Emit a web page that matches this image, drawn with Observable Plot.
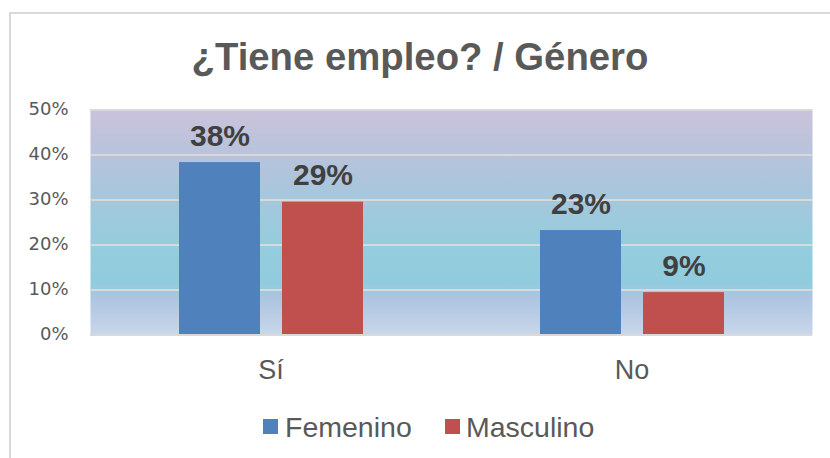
<!DOCTYPE html>
<html><head><meta charset="utf-8">
<script src="https://cdn.jsdelivr.net/npm/d3@7"></script>
<script src="https://cdn.jsdelivr.net/npm/@observablehq/plot@0.6"></script>
<style>
html,body{margin:0;padding:0;background:#fff;}
body{width:830px;height:458px;overflow:hidden;position:relative;font-family:"Liberation Sans",Arial,sans-serif;}
#frame{position:absolute;left:9px;top:12px;width:840px;height:470px;border-left:2px solid #D9D9D9;border-top:2px solid #D9D9D9;box-sizing:border-box;}
#title{position:absolute;left:0;width:840px;top:35px;text-align:center;font-weight:bold;font-size:38.3px;color:#595959;line-height:44px;}
#chart{position:absolute;left:0;top:0;}
.leg{position:absolute;font-size:28.5px;color:#595959;line-height:32px;top:411px;}
.sw{position:absolute;width:15px;height:15px;top:419px;}
</style></head>
<body>
<div id="frame"></div>
<div id="title">¿Tiene empleo? / Género</div>
<div id="chart"></div>
<div id="legend"></div>
<script>
const categorias = ["Sí", "No"];
const generos = ["Femenino", "Masculino"];
const femenino = [0.382, 0.231];
const masculino = [0.294, 0.093];
const yTicks = [0, 0.1, 0.2, 0.3, 0.4, 0.5];
const colores = ["#4F81BD", "#C0504D"];

const data = categorias.flatMap((c, i) => [
  {cat: c, gen: generos[0], v: femenino[i]},
  {cat: c, gen: generos[1], v: masculino[i]}
]);
const pct = d3.format(".0%");

const svg = Plot.plot({
  width: 830, height: 400,
  marginLeft: 90, marginRight: 18, marginTop: 109, marginBottom: 66,
  style: {fontFamily: "Liberation Sans, Arial, sans-serif", color: "#595959", background: "transparent"},
  fx: {domain: categorias, padding: 0, label: null},
  x: {domain: generos, paddingInner: 0.2136, paddingOuter: 0.859, axis: null},
  y: {domain: [0, 0.5], axis: null},
  color: {domain: generos, range: colores},
  marks: [
    Plot.frame({fill: "url(#bgGrad)", stroke: null, facet: "super"}),
    Plot.ruleY(yTicks, {stroke: "#D9D9D9", strokeWidth: 2, shapeRendering: "crispEdges"}),
    Plot.barY(data, {fx: "cat", x: "gen", y: "v", fill: "gen"}),
    Plot.text(data, {fx: "cat", x: "gen", y: "v", text: d => pct(d.v), dy: -17, lineAnchor: "bottom",
      fontSize: 30, fontWeight: "bold", fill: "#404040"}),
    Plot.axisY(yTicks, {tickSize: 0, tickPadding: 22, tickFormat: pct, fontSize: 18,
      fontFamily: "DejaVu Sans", label: null}),
    Plot.axisFx({anchor: "bottom", tickSize: 0, tickPadding: 25, fontSize: 27, label: null})
  ]
});

const ns = "http://www.w3.org/2000/svg";
const defs = document.createElementNS(ns, "defs");
const grad = document.createElementNS(ns, "linearGradient");
grad.setAttribute("id", "bgGrad");
grad.setAttribute("x1", "0"); grad.setAttribute("y1", "0");
grad.setAttribute("x2", "0"); grad.setAttribute("y2", "1");
[[0, "#CCC2DB"], [0.2, "#B8C3DC"], [0.4, "#A5C7DC"], [0.6, "#95CDDD"], [0.77, "#90CCDD"], [0.84, "#AEC4E0"], [1, "#C9D7EA"]]
  .forEach(([o, c]) => {
    const s = document.createElementNS(ns, "stop");
    s.setAttribute("offset", o); s.setAttribute("stop-color", c);
    grad.appendChild(s);
  });
defs.appendChild(grad);
svg.insertBefore(defs, svg.firstChild);
document.getElementById("chart").appendChild(svg);

// legend
const legend = document.getElementById("legend");
const legPos = [[263, 285], [445, 466]];
generos.forEach((g, i) => {
  const sw = document.createElement("div");
  sw.className = "sw"; sw.style.left = legPos[i][0] + "px"; sw.style.background = colores[i];
  const t = document.createElement("div");
  t.className = "leg"; t.style.left = legPos[i][1] + "px"; t.textContent = g;
  legend.appendChild(sw); legend.appendChild(t);
});
</script>
</body></html>
